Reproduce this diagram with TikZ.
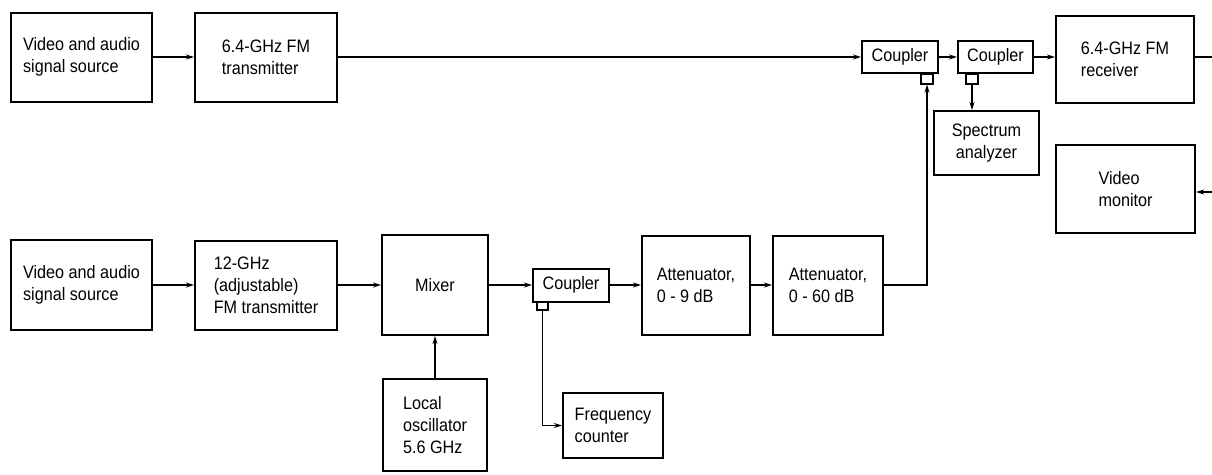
\documentclass[tikz,border=0pt]{standalone}
\usepackage{fontspec}
\setmainfont{Liberation Sans}[FakeStretch=0.9]
\usetikzlibrary{arrows.meta}
\begin{document}
\begin{tikzpicture}[x=1pt,y=-1pt,
  box/.style={draw,line width=2pt,inner sep=0pt,align=left,
    font=\fontsize{18}{22}\selectfont},
  tab/.style={draw,line width=1.6pt,inner sep=0pt,minimum width=12pt,minimum height=10pt},
  conn/.style={line width=1.8pt},
  arr/.style={conn,-{Stealth[length=8pt,width=5pt]}}]
\useasboundingbox (0,0) rectangle (1212,474);
% top row
\node[box,minimum width=141pt,minimum height=89pt] (a1) at (81.5,57) {Video and audio\\signal source};
\node[box,minimum width=142pt,minimum height=89pt] (a2) at (266,57) {6.4-GHz FM\\transmitter};
\node[box,minimum width=76pt,minimum height=32pt] (c1) at (900,57) {Coupler};
\node[box,minimum width=75pt,minimum height=32pt] (c2) at (995.5,57) {Coupler};
\node[box,minimum width=138pt,minimum height=87pt] (rx) at (1125,59) {6.4-GHz FM\\receiver};
\node[tab,anchor=north] (t1) at (927,73) {};
\node[tab,anchor=north] (t2) at (972,73) {};
\node[box,minimum width=105pt,minimum height=64pt,align=center] (sa) at (986.5,143) {Spectrum\\analyzer};
\node[box,minimum width=139pt,minimum height=88pt] (vm) at (1125.5,189) {Video\\monitor};
\coordinate (rout) at (1212,57);
\coordinate (vin) at (1212,192);
% bottom row
\node[box,minimum width=141pt,minimum height=90pt] (b1) at (81.5,285) {Video and audio\\signal source};
\node[box,minimum width=142pt,minimum height=89pt] (b2) at (266,285) {12-GHz\\(adjustable)\\FM transmitter};
\node[box,minimum width=106pt,minimum height=100pt] (mx) at (435,285) {Mixer};
\node[box,minimum width=76pt,minimum height=33pt] (c3) at (571,285) {Coupler};
\node[tab,anchor=north,minimum width=11pt,minimum height=8pt] (t3) at (542.5,301) {};
\node[box,minimum width=108pt,minimum height=99pt] (at1) at (696,285) {Attenuator,\\0 - 9 dB};
\node[box,minimum width=110pt,minimum height=99pt] (at2) at (828,285) {Attenuator,\\0 - 60 dB};
\node[box,minimum width=104pt,minimum height=92pt] (lo) at (435,425) {Local\\oscillator\\5.6 GHz};
\node[box,minimum width=100pt,minimum height=65pt] (fc) at (613,425.5) {Frequency\\counter};
% connectors
\draw[arr] (a1) -- (a2);
\draw[arr] (a2) -- (c1);
\draw[arr] (c1) -- (c2);
\draw[arr] (c2.east) -- (c2.east -| rx.west);
\draw[conn] (rx.east |- rout) -- (rout);
\draw[arr] (t2.south) -- (t2.south |- sa.north);
\draw[arr] (vin) -- (vm.east |- vin);
\draw[arr] (b1) -- (b2);
\draw[arr] (b2) -- (mx);
\draw[arr] (mx) -- (c3);
\draw[arr] (c3) -- (at1);
\draw[arr] (at1) -- (at2);
\draw[arr] (at2.east) -| (t1.south);
\draw[arr] (lo) -- (mx);
\draw[arr] (t3.south) |- (fc.west);
\end{tikzpicture}
\end{document}
